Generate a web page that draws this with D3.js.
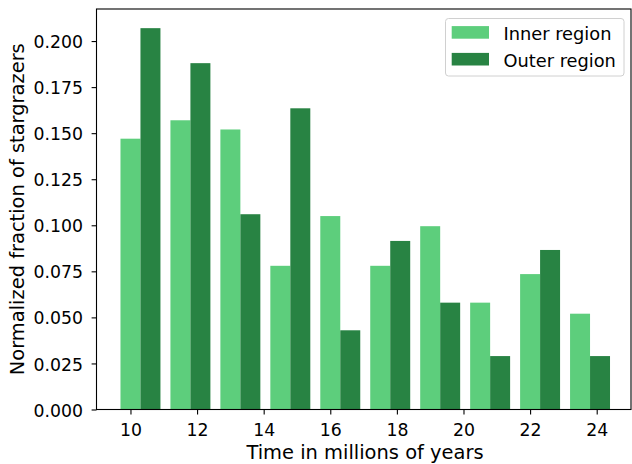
<!DOCTYPE html>
<html>
<head>
<meta charset="utf-8">
<script src="https://cdn.jsdelivr.net/npm/d3@7/dist/d3.min.js"></script>
<style>
  html, body { margin: 0; padding: 0; background: #fff; }
  svg { display: block; font-family: "DejaVu Sans", sans-serif; }
</style>
</head>
<body>
<svg id="chart" width="632" height="464"></svg>
<script>
// Bin start times (millions of years) and normalized fractions per region
const binStarts = [10, 11.5, 13, 14.5, 16, 17.5, 19, 20.5, 22, 23.5];
const innerValues = [0.147, 0.157, 0.152, 0.078, 0.105, 0.078, 0.0995, 0.058, 0.0735, 0.052];
const outerValues = [0.207, 0.188, 0.106, 0.1635, 0.043, 0.0915, 0.058, 0.029, 0.0866, 0.029];
const xTicks = [10, 12, 14, 16, 18, 20, 22, 24];
const yTicks = [0, 0.025, 0.05, 0.075, 0.1, 0.125, 0.15, 0.175, 0.2];
const seriesNames = ["Inner region", "Outer region"];
const seriesColors = ["#5dce7c", "#288343"];

const barWidth = 0.6;
const plot = { left: 96.5, right: 631, top: 9, bottom: 409.5 };
const tickFont = 17.3;
const labelFont = 19.44;
const legendFont = 17.8;

const svg = d3.select("#chart");

const x = d3.scaleLinear().domain([8.98, 25.03]).range([plot.left, plot.right]);
const y = d3.scaleLinear().domain([0, 0.2174]).range([plot.bottom, plot.top]);

// Bars: inner centred on the bin start, outer directly to its right
const groups = [innerValues, outerValues];
groups.forEach((vals, si) => {
  svg.append("g")
    .selectAll("rect")
    .data(vals)
    .join("rect")
    .attr("x", (d, i) => x(binStarts[i] + si * barWidth - barWidth / 2))
    .attr("width", x(barWidth) - x(0))
    .attr("y", d => y(d))
    .attr("height", d => y(0) - y(d))
    .attr("fill", seriesColors[si]);
});

// Axes
const xAxis = d3.axisBottom(x).tickValues(xTicks).tickFormat(d3.format("d"))
  .tickSize(4.9).tickPadding(9.5);
const yAxis = d3.axisLeft(y).tickValues(yTicks).tickFormat(d3.format(".3f"))
  .tickSize(4.9).tickPadding(8.7);

const gx = svg.append("g").attr("transform", `translate(0,${plot.bottom})`).call(xAxis);
const gy = svg.append("g").attr("transform", `translate(${plot.left},0)`).call(yAxis);
[gx, gy].forEach(g => {
  g.select(".domain").remove();
  g.selectAll(".tick line").attr("stroke", "#000").attr("stroke-width", 1.1);
  g.selectAll(".tick text").attr("fill", "#000").attr("font-size", tickFont)
    .attr("font-family", "DejaVu Sans");
});
gx.selectAll(".tick text").attr("dy", "0.7em");
gy.selectAll(".tick text").attr("dy", "0.38em");

// Frame
svg.append("rect")
  .attr("x", plot.left).attr("y", plot.top)
  .attr("width", plot.right - plot.left).attr("height", plot.bottom - plot.top)
  .attr("fill", "none").attr("stroke", "#000").attr("stroke-width", 1.1);

// Axis titles
svg.append("text")
  .attr("x", 365).attr("y", 458.7)
  .attr("text-anchor", "middle").attr("font-size", labelFont).attr("fill", "#000")
  .text("Time in millions of years");

svg.append("text")
  .attr("transform", `translate(23.5,${(plot.top + plot.bottom) / 2}) rotate(-90)`)
  .attr("text-anchor", "middle").attr("font-size", labelFont).attr("fill", "#000")
  .text("Normalized fraction of stargrazers");

// Legend
const legend = svg.append("g");
legend.append("rect")
  .attr("x", 445.5).attr("y", 18.5).attr("width", 178.5).attr("height", 57.5)
  .attr("rx", 3).attr("fill", "#fff").attr("fill-opacity", 0.8)
  .attr("stroke", "#d0d0d0").attr("stroke-width", 1);
const rows = legend.selectAll("g.row")
  .data(seriesNames)
  .join("g")
  .attr("class", "row")
  .attr("transform", (d, i) => `translate(0,${32.4 + i * 26.8})`);
rows.append("rect")
  .attr("x", 451.7).attr("y", -6.3).attr("width", 37.3).attr("height", 12.6)
  .attr("fill", (d, i) => seriesColors[i]);
rows.append("text")
  .attr("x", 503.5).attr("y", 7.6)
  .attr("font-size", legendFont).attr("fill", "#000")
  .text(d => d);
</script>
</body>
</html>
